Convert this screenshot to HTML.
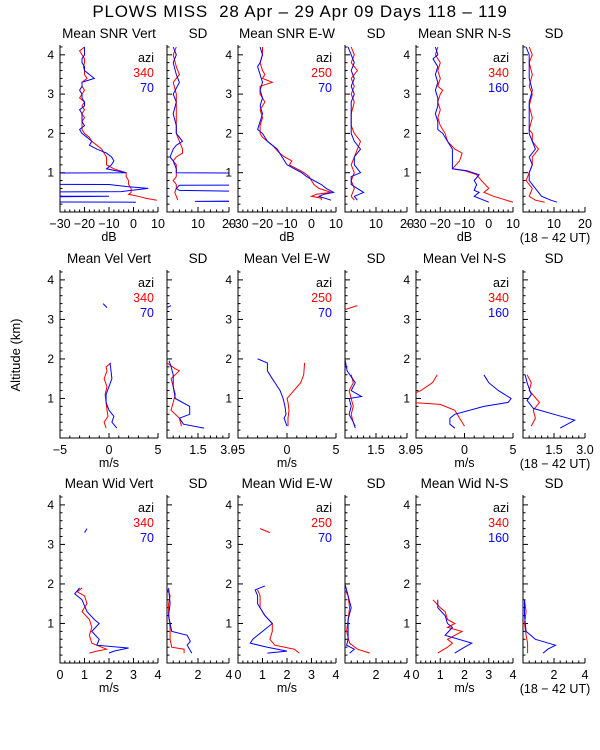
<!DOCTYPE html>
<html><head><meta charset="utf-8"><style>
html,body{margin:0;padding:0;background:#fff;}
svg{display:block;font-family:"Liberation Sans",sans-serif;}
</style></head><body>
<svg id="chart" width="600" height="750" viewBox="0 0 600 750">
<text x="300" y="17" text-anchor="middle" font-size="17" letter-spacing="0.8" style="white-space:pre">PLOWS MISS  28 Apr – 29 Apr 09 Days 118 – 119</text>
<text x="20" y="355" text-anchor="middle" font-size="13" transform="rotate(-90 20 355)">Altitude (km)</text>
</svg>
<script>
// ---- data ----
const yTicks = [1,2,3,4];
const legendAzi = [["340","70"],["250","70"],["340","160"]];
const panelTitles = [
 ["Mean SNR Vert","SD","Mean SNR E-W","SD","Mean SNR N-S","SD"],
 ["Mean Vel Vert","SD","Mean Vel E-W","SD","Mean Vel N-S","SD"],
 ["Mean Wid Vert","SD","Mean Wid E-W","SD","Mean Wid N-S","SD"]];
const meanRanges = [[-30,10],[-5,5],[0,4]];
const sdRanges = [[0,20],[0,3],[0,4]];
const meanTickLabels = [[-30,-20,-10,0,10],[-5,0,5],[0,1,2,3,4]];
const sdTickLabels = [[10,20],[1.5,3.0],[2,4]];
const xTitles = ["dB","m/s","m/s"];

// series: [altitude km, value]
const snrVertRed=[[4.2,-20],[4.1,-22],[4.0,-21],[3.9,-20],[3.8,-20],[3.7,-20.5],[3.6,-20],[3.5,-20],[3.4,-19],[3.3,-21],[3.2,-21],[3.1,-20],[3.0,-21],[2.9,-22],[2.8,-20],[2.7,-21],[2.6,-20],[2.5,-21],[2.4,-20],[2.3,-21],[2.2,-21],[2.1,-21],[2.0,-20],[1.9,-18],[1.8,-17],[1.7,-15],[1.6,-13],[1.5,-12],[1.4,-11],[1.3,-11],[1.2,-11],[1.1,-8],[1.0,-3],[0.9,-3],[0.8,-2],[0.7,-2],[0.6,-1],[0.5,-1],[0.45,-2],[0.4,2],[0.35,5],[0.3,9.5]];
const snrVertBlue=[[4.2,-20],[4.1,-20],[4.0,-20],[3.9,-21],[3.8,-21],[3.7,-20],[3.6,-20],[3.5,-18],[3.4,-16],[3.3,-21],[3.2,-21],[3.1,-22],[3.0,-21],[2.9,-21],[2.8,-20],[2.7,-20],[2.6,-22],[2.5,-21],[2.4,-21],[2.3,-21],[2.2,-20],[2.1,-22],[2.0,-21],[1.9,-19],[1.8,-17],[1.7,-18],[1.6,-15],[1.5,-11],[1.4,-9],[1.3,-8],[1.2,-9],[1.1,-11],[1.0,-3],[0.94,-200],[0.72,-200],[0.7,-10],[0.65,-3],[0.6,6],[0.52,-5],[0.47,-200],[0.41,-200],[0.4,-10],[0.3,-200],[0.28,-200],[0.25,1]];
const snrVertSdRed=[[4.2,3],[4.0,2],[3.7,3],[3.5,4],[3.3,2],[3.0,3],[2.7,3],[2.4,3],[2.0,3],[1.8,4],[1.6,5],[1.5,5],[1.4,3],[1.3,2],[1.2,3],[1.0,3],[0.9,3],[0.8,2],[0.7,3],[0.6,3],[0.5,2.5],[0.4,3],[0.3,3.5]];
const snrVertSdBlue=[[4.2,2],[4.0,3],[3.8,2],[3.5,3],[3.3,4],[3.0,2],[2.8,3],[2.5,2],[2.2,3],[2.0,3],[1.9,4],[1.8,5],[1.7,3],[1.6,2],[1.4,1],[1.3,2],[1.1,3],[1.0,3],[0.98,60],[0.7,60],[0.68,4],[0.6,3],[0.55,4],[0.48,60],[0.3,60],[0.27,9],[0.27,60]];
const snrEwRed=[[4.2,-20],[4.0,-20],[3.8,-21],[3.6,-20],[3.5,-19],[3.4,-20],[3.3,-16],[3.2,-21],[3.0,-21],[2.8,-19],[2.6,-21],[2.4,-20],[2.2,-21],[2.0,-21],[1.9,-20],[1.7,-16],[1.5,-13],[1.4,-11],[1.3,-8],[1.2,-9],[1.1,-6],[1.0,-3],[0.9,-1],[0.8,0],[0.7,1],[0.6,3],[0.5,8],[0.45,2],[0.4,0],[0.35,4],[0.3,4]];
const snrEwBlue=[[4.2,-21],[4.0,-20],[3.8,-21],[3.7,-22],[3.5,-21],[3.3,-20],[3.1,-21],[2.9,-20],[2.7,-21],[2.5,-20],[2.3,-21],[2.1,-22],[2.0,-20],[1.8,-18],[1.6,-14],[1.4,-12],[1.2,-10],[1.1,-7],[1.0,-4],[0.9,-2],[0.8,1],[0.7,4],[0.6,6],[0.5,9],[0.45,5],[0.4,3],[0.3,8]];
const snrEwSdRed=[[4.2,2],[4.0,3],[3.8,2],[3.6,4],[3.4,2],[3.2,3],[3.0,2],[2.8,3],[2.5,2],[2.2,2],[2.0,3],[1.8,5],[1.6,4],[1.4,3],[1.2,2],[1.0,3],[0.8,2],[0.6,3],[0.4,2],[0.3,3]];
const snrEwSdBlue=[[4.2,1],[4.0,2],[3.8,3],[3.6,2],[3.4,3],[3.2,2],[3.0,3],[2.8,2],[2.5,2],[2.2,2],[2.0,2],[1.8,3],[1.6,5],[1.4,3],[1.2,3],[1.0,5],[0.9,2],[0.7,2],[0.5,6],[0.4,3],[0.3,4]];
const snrNsRed=[[4.2,-21],[4.0,-22],[3.8,-20],[3.6,-21],[3.4,-20],[3.2,-21],[3.1,-19],[3.0,-20],[2.8,-21],[2.6,-20],[2.4,-21],[2.2,-20],[2.0,-18],[1.8,-17],[1.6,-14],[1.5,-11],[1.3,-12],[1.1,-15],[1.05,-10],[0.95,-5],[0.8,-3],[0.6,0],[0.5,-2],[0.4,2],[0.25,10]];
const snrNsBlue=[[4.2,-22],[4.0,-21],[3.9,-23],[3.7,-21],[3.5,-22],[3.3,-21],[3.1,-22],[2.9,-21],[2.7,-21],[2.5,-22],[2.3,-21],[2.1,-21],[2.0,-19],[1.8,-17],[1.6,-15],[1.5,-15],[1.3,-15],[1.1,-15],[1.05,-9],[0.95,-4],[0.8,-6],[0.7,-5],[0.55,-6],[0.5,-4],[0.4,-6],[0.3,-2],[0.25,0]];
const snrNsSdRed=[[4.2,2],[4.0,3],[3.8,2],[3.5,3],[3.2,2],[3.0,3],[2.7,2],[2.4,3],[2.1,2],[2.0,3],[1.8,3],[1.6,5],[1.4,3],[1.2,3],[1.0,2],[0.8,1],[0.6,3],[0.4,2],[0.3,4],[0.25,7]];
const snrNsSdBlue=[[4.2,1],[4.0,2],[3.7,2],[3.4,2],[3.1,3],[2.8,2],[2.5,2],[2.2,2],[2.0,2],[1.8,3],[1.6,4],[1.4,2],[1.2,3],[1.0,2],[0.8,2],[0.6,4],[0.4,6],[0.3,9],[0.25,11]];

const velVertRed=[[1.9,0.2],[1.8,-0.3],[1.7,-0.2],[1.5,-0.5],[1.3,-0.2],[1.1,-0.4],[0.9,-0.3],[0.7,-0.2],[0.55,-0.1],[0.4,-0.5],[0.25,-0.3]];
const velVertBlue=[[3.4,-0.6],[3.3,-0.2],null,[1.9,0.1],[1.7,0.2],[1.5,0.3],[1.3,0],[1.1,-0.3],[0.9,-0.3],[0.7,0],[0.55,0.5],[0.4,0.3],[0.25,0.8]];
const velVertSdRed=[[1.9,0],[1.75,0.4],[1.7,0.6],[1.5,0.2],[1.3,0.3],[1.1,0.4],[0.9,0.3],[0.7,0.2],[0.5,0.6],[0.3,0.7]];
const velVertSdBlue=[[3.35,0.2],[3.3,0],null,[1.95,0.1],[1.8,0.2],[1.6,0.3],[1.3,0.3],[1.0,0.4],[0.8,1.1],[0.6,1.1],[0.5,0.6],[0.35,0.8],[0.25,1.8]];
const velEwRed=[[1.9,1.8],[1.6,1.7],[1.4,1.4],[1.2,0.7],[1.0,0],[0.9,0.1],[0.7,0.2],[0.5,0.1],[0.3,0.1]];
const velEwBlue=[[2.0,-3],[1.9,-2],[1.7,-2],[1.5,-1.5],[1.2,-0.7],[1.0,-0.4],[0.8,-0.2],[0.6,-0.1],[0.5,-0.3],[0.3,0]];
const velEwSdRed=[[3.35,0.6],[3.25,0],null,[1.6,0.3],[1.4,0.4],[1.2,0.2],[1.0,0.3],[0.8,0.4],[0.6,0.3],[0.4,0.4],[0.3,0.5]];
const velEwSdBlue=[[2.0,0],[1.7,0.1],[1.4,0.5],[1.2,0.3],[1.05,0.8],[1.0,0.2],[0.8,0.3],[0.6,0.2],[0.4,0.4],[0.25,0.5]];
const velNsRed=[[1.6,-2.8],[1.4,-3.3],[1.2,-4.5],[1.1,-5.5],[0.9,-5.5],[0.85,-2.5],[0.7,-1],[0.5,-0.5],[0.3,0]];
const velNsBlue=[[1.6,2],[1.4,2.5],[1.2,3.5],[1.0,4.8],[0.9,4.5],[0.8,2],[0.6,-1],[0.5,-1.5],[0.35,-1.5],[0.25,-1]];
const velNsSdRed=[[1.6,0.2],[1.4,0.4],[1.2,0.3],[0.9,0.8],[0.7,0.5],[0.5,0.6],[0.3,0.4]];
const velNsSdBlue=[[1.6,0.1],[1.4,0.2],[1.1,0.4],[0.95,0.2],[0.75,0.5],[0.6,1.5],[0.45,2.5],[0.25,1.8]];

const widVertRed=[[1.9,0.9],[1.8,0.7],[1.7,1.0],[1.5,1.1],[1.3,0.9],[1.1,1.2],[0.9,1.3],[0.7,1.2],[0.5,1.3],[0.45,1.5],[0.35,1.9],[0.3,1.5],[0.25,1.2]];
const widVertBlue=[[3.4,1.1],[3.3,1.0],null,[1.9,0.8],[1.75,0.6],[1.6,0.9],[1.3,1.1],[1.1,1.4],[1.0,1.6],[0.8,1.3],[0.6,1.6],[0.45,1.5],[0.38,2.8],[0.3,2.2],[0.25,2.0]];
const widVertSdRed=[[1.9,0],[1.7,0.2],[1.5,0.1],[1.2,0.1],[0.9,0.2],[0.6,0.2],[0.4,0.3],[0.35,1.1],[0.25,1.1]];
const widVertSdBlue=[[3.4,0],[3.3,0],null,[1.9,0.1],[1.5,0.2],[1.2,0.1],[1.0,0.2],[0.8,0.3],[0.7,1.3],[0.55,1.5],[0.45,1.3],[0.25,1.6]];
const widEwRed=[[3.4,0.9],[3.3,1.3],null,[1.85,0.8],[1.7,0.9],[1.4,0.9],[1.2,1.1],[1.0,1.4],[0.8,1.4],[0.6,1.3],[0.45,1.5],[0.35,2.3],[0.25,2.5]];
const widEwBlue=[[1.95,1.1],[1.85,0.7],[1.7,0.8],[1.5,0.8],[1.2,1.1],[1.0,1.4],[0.8,1.0],[0.6,0.6],[0.5,0.5],[0.4,1.2],[0.3,2.0],[0.25,1.2]];
const widEwSdRed=[[3.35,0],[3.25,0],null,[1.85,0],[1.7,0.2],[1.4,0.3],[1.1,0.2],[0.8,0.1],[0.5,0.3],[0.35,0.8],[0.25,1.6]];
const widEwSdBlue=[[2.0,0],[1.7,0.2],[1.4,0.4],[1.1,0.2],[0.9,0.2],[0.6,0.2],[0.45,0.1],[0.35,0.6],[0.25,0.3]];
const widNsRed=[[1.6,0.7],[1.4,1.0],[1.3,1.2],[1.1,1.3],[1.0,1.6],[0.9,1.3],[0.8,1.9],[0.6,1.3],[0.5,1.5],[0.4,1.3],[0.25,0.9]];
const widNsBlue=[[1.6,0.9],[1.4,0.9],[1.2,1.2],[1.0,1.3],[0.9,1.5],[0.7,1.2],[0.5,2.3],[0.4,2.0],[0.25,1.6]];
const widNsSdRed=[[1.6,0.1],[1.3,0.2],[1.0,0.1],[0.7,0.2],[0.5,0.3],[0.25,0.3]];
const widNsSdBlue=[[1.6,0.1],[1.2,0.1],[0.8,0.2],[0.6,0.8],[0.45,2.1],[0.35,1.6],[0.25,1.3]];

const seriesGrid = [
 [[snrVertRed,snrVertBlue],[snrVertSdRed,snrVertSdBlue],[snrEwRed,snrEwBlue],[snrEwSdRed,snrEwSdBlue],[snrNsRed,snrNsBlue],[snrNsSdRed,snrNsSdBlue]],
 [[velVertRed,velVertBlue],[velVertSdRed,velVertSdBlue],[velEwRed,velEwBlue],[velEwSdRed,velEwSdBlue],[velNsRed,velNsBlue],[velNsSdRed,velNsSdBlue]],
 [[widVertRed,widVertBlue],[widVertSdRed,widVertSdBlue],[widEwRed,widEwBlue],[widEwSdRed,widEwSdBlue],[widNsRed,widNsBlue],[widNsSdRed,widNsSdBlue]]];

// ---- layout ----
const NS='http://www.w3.org/2000/svg';
const svg=document.getElementById('chart');
const colX=[[60,158],[167,229],[238,336],[345,407],[416,513],[523,585]];
const rowY=[[45,212],[270,438],[495,663]];
const YMAX=4.25;
function mk(tag,attrs,parent){const e=document.createElementNS(NS,tag);for(const k in attrs)e.setAttribute(k,attrs[k]);(parent||svg).appendChild(e);return e;}
function txt(x,y,s,anchor,size,fill,parent){const t=mk('text',{x:x,y:y,'text-anchor':anchor,'font-size':size,fill:fill||'#000'},parent);t.textContent=s;return t;}

let clipId=0;
for(let r=0;r<3;r++){
 const [y0,y1]=rowY[r];
 const ys=a=>y1-(a/YMAX)*(y1-y0);
 for(let c=0;c<6;c++){
  const [x0,x1]=colX[c];
  const isSd=c%2===1;
  const [vmin,vmax]=isSd?sdRanges[r]:meanRanges[r];
  const xs=v=>x0+(v-vmin)/(vmax-vmin)*(x1-x0);
  const g=mk('g',{});
  
  
  const tt=txt((x0+x1)/2,y0-7,panelTitles[r][c],'middle',13.5,'#000',g);
  
  
  const ax=mk('path',{d:`M${x0},${y0}V${y1}H${x1}`,stroke:'#000','stroke-width':1,fill:'none'},g);
  
  
  for(let a=0.2;a<=4.21;a+=0.2){
   const major=Math.abs(a-Math.round(a))<0.01;
   mk('line',{x1:x0,x2:x0+(major?5:2.5),y1:ys(a),y2:ys(a),stroke:'#000','stroke-width':1},g);
  }
  if(!isSd){
   yTicks.forEach(t=>{const l=txt(x0-6,ys(t)+4,String(t),'end',12,'#000',g);
    
    });
  }
  const labels=isSd?sdTickLabels[r]:meanTickLabels[r];
  const step=labels[1]-labels[0];
  const minor=step/5;
  for(let v=vmin;v<=vmax+1e-6;v+=minor){
   const k=Math.round((v-vmin)/minor);
   mk('line',{x1:xs(v),x2:xs(v),y1:y1,y2:y1-(k%5===0?5:2.5),stroke:'#000','stroke-width':1},g);
  }
  labels.forEach(v=>{const l=txt(xs(v),y1+16,String(isSd&&r===1&&v===3?'3.0':v).replace('-','\u2212'),'middle',12.5,'#000',g);
   
   });
  if(!isSd){
   const xt=txt((x0+x1)/2,y1+29,xTitles[r],'middle',12.5,'#000',g);
   
   
   const li=c/2;
   const lg=mk('g',{},g);
   
   
   txt(x1-4,y0+17,'azi','end',12.5,'#000',lg);
   txt(x1-4,y0+32,legendAzi[li][0],'end',12.5,'#f00',lg);
   txt(x1-4,y0+47,legendAzi[li][1],'end',12.5,'#00f',lg);
  }
  if(c===5){
   const ut=txt(555,y1+30,'(18 \u2212 42 UT)','middle',12.5,'#000',g);
   
   
  }
  const id='clip'+(clipId++);
  const cp=mk('clipPath',{id:id},g);
  mk('rect',{x:x0,y:y0,width:x1-x0,height:y1-y0},cp);
  const colors=['#f00','#00f'];
  seriesGrid[r][c].forEach((ser,si)=>{
   let d='',pen=false;
   ser.forEach(p=>{
    if(p===null){pen=false;return;}
    d+=(pen?'L':'M')+xs(p[1]).toFixed(1)+','+ys(p[0]).toFixed(1);
    pen=true;
   });
   const pl=mk('path',{d:d,stroke:colors[si],'stroke-width':1,fill:'none','clip-path':`url(#${id})`},g);
   
   
  });
 }
}
</script>
</body></html>
